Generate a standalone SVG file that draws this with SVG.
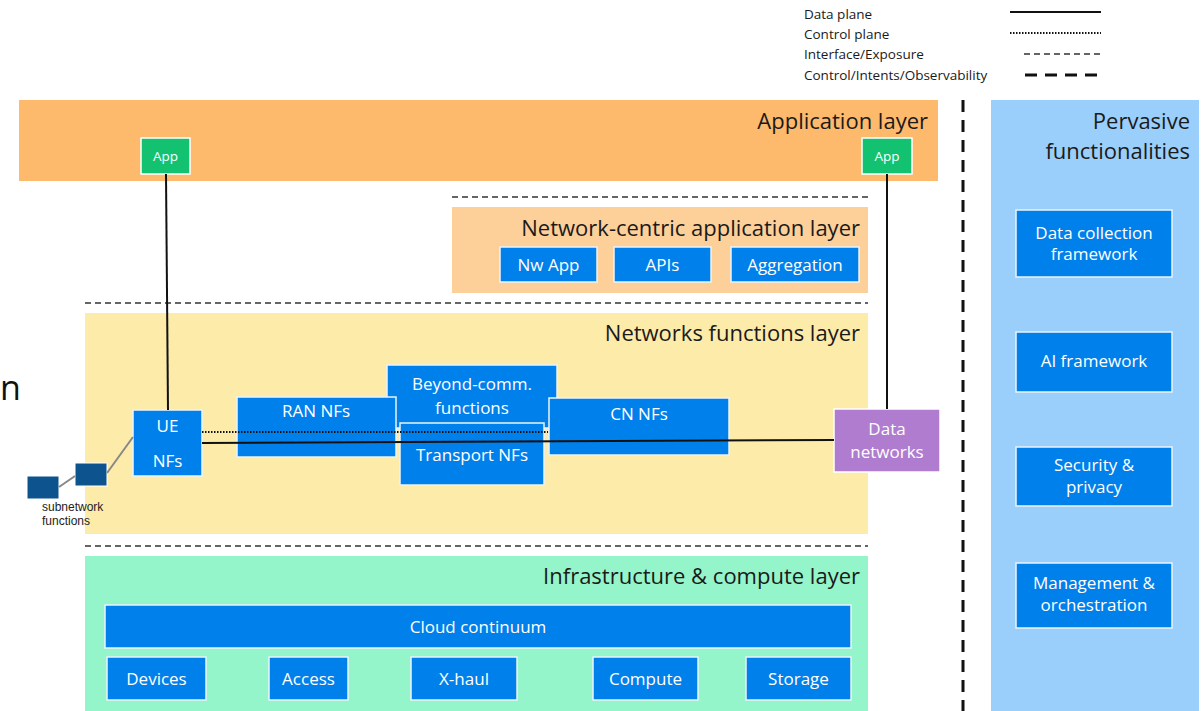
<svg xmlns="http://www.w3.org/2000/svg" width="1203" height="711" viewBox="0 0 1203 711">
<style>
text{font-family:"Open Sans","Liberation Sans",sans-serif}
text.arial{font-family:"Liberation Sans",Arial,sans-serif;font-size:12px;fill:#222}
.title{font-size:22px;fill:#1a1a1a;text-anchor:end}
.box{fill:#0080EB;stroke:#EAF3FB;stroke-width:1.5}
.bt{font-size:17px;fill:#fff;text-anchor:middle}
.app{fill:#13C270;stroke:#fff;stroke-width:1.5}
.leg{font-size:13.5px;fill:#1a1a1a}
.iface{stroke:#333;stroke-width:1.6;stroke-dasharray:6 4;fill:none}
.data{stroke:#111;stroke-width:2;fill:none}
.ctrl{stroke:#111;stroke-width:2;stroke-dasharray:1.5 1.5;fill:none}
.sub{fill:#0D548E;stroke:#fff;stroke-width:1}
</style>
<rect width="1203" height="711" fill="#fff"/>
<g id="legend">
<text class="leg" x="804" y="19">Data plane</text>
<text class="leg" x="804" y="39">Control plane</text>
<text class="leg" x="804" y="59">Interface/Exposure</text>
<text class="leg" x="804" y="80">Control/Intents/Observability</text>
<line x1="1010" y1="12" x2="1101" y2="12" class="data"/>
<line x1="1010" y1="33" x2="1101" y2="33" class="ctrl"/>
<line x1="1024" y1="54" x2="1101" y2="54" class="iface"/>
<line x1="1025" y1="75" x2="1101" y2="75" stroke="#111" stroke-width="3" stroke-dasharray="12 8"/>
</g>
<text x="0" y="400" font-size="34" fill="#111">n</text>
<g id="application-layer">
<rect x="19" y="100" width="919" height="81" fill="#FDB96C"/>
<text class="title" x="928" y="129">Application layer</text>
</g>
<g id="nw-centric-layer">
<rect x="452" y="207" width="416" height="86" fill="#FDD09A"/>
<text class="title" x="860" y="236">Network-centric application layer</text>
</g>
<g id="nf-layer">
<rect x="85" y="313" width="783" height="221" fill="#FDEBAA"/>
<text class="title" x="860" y="341">Networks functions layer</text>
</g>
<g id="infra-layer">
<rect x="85" y="556" width="783" height="155" fill="#94F5CA"/>
<text class="title" x="860" y="584">Infrastructure &amp; compute layer</text>
</g>
<g id="pervasive">
<rect x="991" y="100" width="208" height="611" fill="#9BCFFB"/>
<text class="title" x="1190" y="129">Pervasive</text>
<text class="title" x="1190" y="159">functionalities</text>
</g>
<g id="separators">
<line x1="452" y1="197" x2="868" y2="197" class="iface"/>
<line x1="85" y1="303" x2="868" y2="303" class="iface"/>
<line x1="85" y1="546" x2="868" y2="546" class="iface"/>
<line x1="963" y1="100" x2="963" y2="711" stroke="#111" stroke-width="3" stroke-dasharray="12 8"/>
</g>
<g id="app-left"><rect class="app" x="141" y="138" width="49" height="36"/><text x="165.5" y="161" font-size="13.5" fill="#fff" text-anchor="middle">App</text></g>
<g id="app-right"><rect class="app" x="862" y="138" width="50" height="36"/><text x="887" y="161" font-size="13.5" fill="#fff" text-anchor="middle">App</text></g>
<g id="nw-app"><rect class="box" x="500" y="247" width="97" height="35"/><text class="bt" x="548.5" y="271">Nw App</text></g>
<g id="apis"><rect class="box" x="614" y="247" width="97" height="35"/><text class="bt" x="662.5" y="271">APIs</text></g>
<g id="aggregation"><rect class="box" x="731" y="247" width="128" height="35"/><text class="bt" x="795" y="271">Aggregation</text></g>
<g id="beyond-comm"><rect class="box" x="387" y="365" width="170" height="63"/><text class="bt" x="472" y="390">Beyond-comm.</text><text class="bt" x="472" y="414">functions</text></g>
<g id="ran-nfs"><rect class="box" x="237" y="397" width="159" height="60"/><text class="bt" x="316" y="417">RAN NFs</text></g>
<g id="transport-nfs"><rect class="box" x="400" y="423" width="144" height="62"/><text class="bt" x="472" y="461">Transport NFs</text></g>
<g id="cn-nfs"><rect class="box" x="549" y="398" width="180" height="57"/><text class="bt" x="639" y="420">CN NFs</text></g>
<g id="ue-nfs"><rect class="box" x="133" y="410" width="69" height="66"/><text class="bt" x="167.5" y="432">UE</text><text class="bt" x="167.5" y="467">NFs</text></g>
<g id="data-networks"><rect x="834" y="409" width="106" height="63" fill="#B07CD0" stroke="#fff" stroke-width="1.5"/><text class="bt" x="887" y="435">Data</text><text class="bt" x="887" y="458">networks</text></g>
<g id="subnetwork-1"><rect class="sub" x="27" y="476" width="32" height="23"/></g>
<g id="subnetwork-2"><rect class="sub" x="75" y="463" width="32" height="23"/></g>
<text class="arial" x="42" y="511">subnetwork</text>
<text class="arial" x="42" y="525">functions</text>
<g id="cloud"><rect class="box" x="105" y="605" width="746" height="43"/><text class="bt" x="478" y="633">Cloud continuum</text></g>
<g id="devices"><rect class="box" x="107" y="657" width="99" height="43"/><text class="bt" x="156.5" y="685">Devices</text></g>
<g id="access"><rect class="box" x="269" y="657" width="79" height="43"/><text class="bt" x="308.5" y="685">Access</text></g>
<g id="xhaul"><rect class="box" x="411" y="657" width="106" height="43"/><text class="bt" x="464" y="685">X-haul</text></g>
<g id="compute"><rect class="box" x="593" y="657" width="105" height="43"/><text class="bt" x="645.5" y="685">Compute</text></g>
<g id="storage"><rect class="box" x="746" y="657" width="105" height="43"/><text class="bt" x="798.5" y="685">Storage</text></g>
<g id="data-collection"><rect class="box" x="1016" y="210" width="156" height="67"/><text class="bt" x="1094" y="239">Data collection</text><text class="bt" x="1094" y="260">framework</text></g>
<g id="ai-framework"><rect class="box" x="1016" y="332" width="156" height="60"/><text class="bt" x="1094" y="367">AI framework</text></g>
<g id="security"><rect class="box" x="1016" y="447" width="156" height="59"/><text class="bt" x="1094" y="471">Security &amp;</text><text class="bt" x="1094" y="493">privacy</text></g>
<g id="management"><rect class="box" x="1016" y="563" width="156" height="65"/><text class="bt" x="1094" y="589">Management &amp;</text><text class="bt" x="1094" y="611">orchestration</text></g>
<g id="connectors">
<line x1="166" y1="174" x2="168" y2="410" class="data"/>
<line x1="887" y1="174" x2="887" y2="409" class="data"/>
<line x1="202" y1="432" x2="548" y2="432" class="ctrl"/>
<polyline points="202,443 834,440" class="data"/>
<line x1="59" y1="487" x2="75" y2="476" stroke="#888" stroke-width="2"/>
<line x1="107" y1="473" x2="133" y2="437" stroke="#888" stroke-width="2"/>
</g>
</svg>
